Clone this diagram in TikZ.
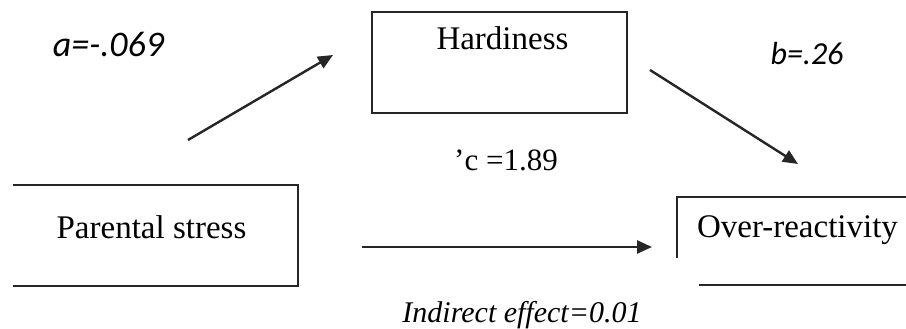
\documentclass[tikz,border=0pt]{standalone}
\usepackage{fontspec}
\setmainfont{Liberation Serif}
\newfontfamily\calfont{Carlito}
\usetikzlibrary{arrows.meta}
\tikzset{
  boxline/.style={line width=2.4pt, black!85},
  arr/.style={line width=2.4pt, black!85, -{Triangle[length=15pt,width=13pt]}},
  lbl/.style={inner sep=0pt, anchor=base, font=\fontsize{33}{36}\selectfont},
  coef/.style={inner sep=0pt, anchor=base},
}
\begin{document}
\begin{tikzpicture}[x=1pt,y=-1pt]
\useasboundingbox[fill=white] (0,0) rectangle (906,329);
% Hardiness box
\node[draw, boxline, minimum width=255pt, minimum height=101pt, inner sep=0pt] (H) at (499.5,62.5) {};
\node[lbl] (Ht) at (502.5,50) {Hardiness};
% Parental stress box (left side cut off)
\coordinate (P1) at (13,185);
\coordinate (P2) at (298,185);
\coordinate (P3) at (298,286);
\coordinate (P4) at (13,286);
\draw[boxline, line join=miter] (P1) -- (P2) -- (P3) -- (P4);
\node[lbl] (P) at (151.5,238) {Parental stress};
% Over-reactivity box (partly cut off)
\coordinate (O1) at (906,197);
\coordinate (O2) at (677,197);
\coordinate (O3) at (677,258);
\coordinate (O4) at (699,285);
\coordinate (O5) at (906,285);
\draw[boxline, line join=miter] (O1) -- (O2) -- (O3);
\draw[boxline] (O4) -- (O5);
\node[lbl] (O) at (797.5,237) {Over-reactivity};
% arrows
\coordinate (a1) at (188,140);
\coordinate (a2) at (333,55);
\coordinate (b1) at (650,70);
\coordinate (b2) at (798,164);
\coordinate (c1) at (362,247);
\coordinate (c2) at (652,247);
\draw[arr] (a1) -- (a2);
\draw[arr] (b1) -- (b2);
\draw[arr] (c1) -- (c2);
% labels
\node[coef, font=\calfont\itshape\fontsize{36}{40}\selectfont] (la) at (108.5,57) {a=-.069};
\node[coef, font=\calfont\itshape\fontsize{32}{36}\selectfont] (lb) at (807,65) {b=.26};
\node[coef, font=\fontsize{31}{34}\selectfont] (lc) at (506,170) {'c =1.89};
\node[coef, font=\itshape\fontsize{30}{34}\selectfont] (li) at (522,322) {Indirect effect=0.01};
\end{tikzpicture}
\end{document}
